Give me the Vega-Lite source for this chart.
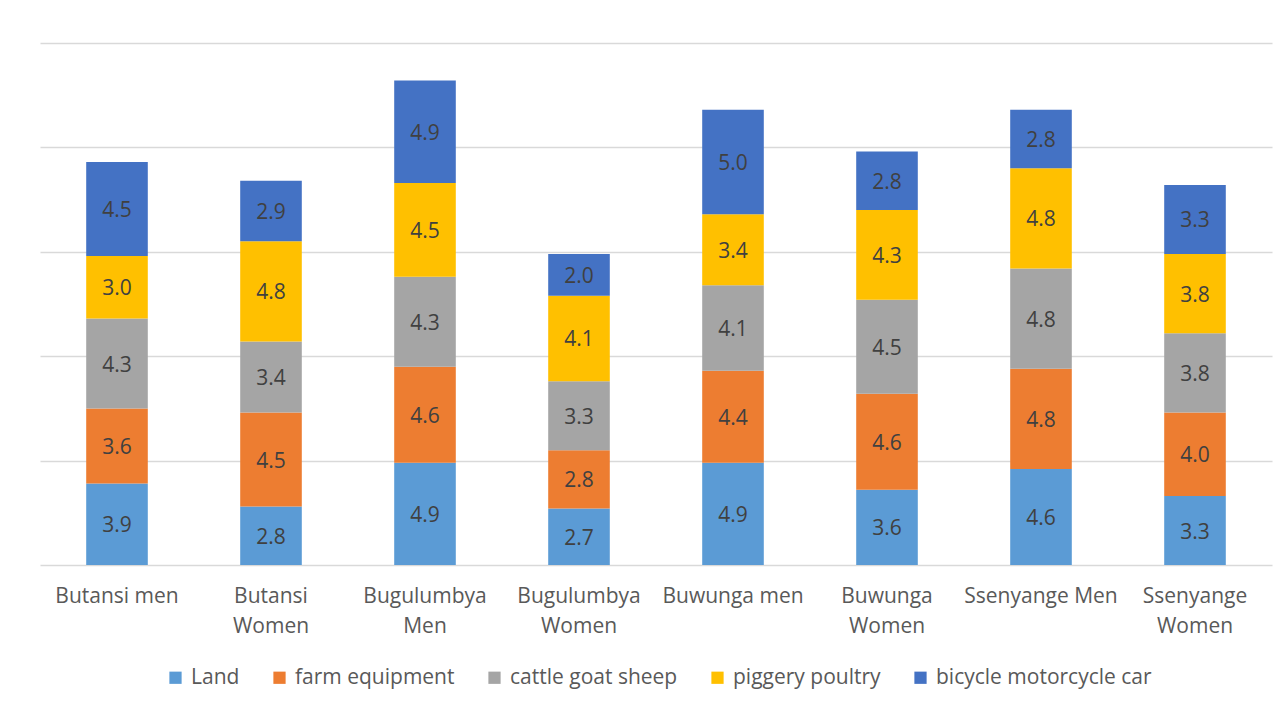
{
  "$schema": "https://vega.github.io/schema/vega-lite/v6.json",
  "width": 1232,
  "height": 522,
  "autosize": {"type": "none"},
  "padding": {"left": 40, "top": 43, "right": 14, "bottom": 144},
  "background": "white",
  "config": {
    "view": {"stroke": null},
    "font": "Open Sans"
  },
  "data": {
    "values": [
      {"group": "Butansi men", "asset": "Land", "asset_order": 1, "value": 3.9},
      {"group": "Butansi men", "asset": "farm equipment", "asset_order": 2, "value": 3.6},
      {"group": "Butansi men", "asset": "cattle goat sheep", "asset_order": 3, "value": 4.3},
      {"group": "Butansi men", "asset": "piggery poultry", "asset_order": 4, "value": 3.0},
      {"group": "Butansi men", "asset": "bicycle motorcycle car", "asset_order": 5, "value": 4.5},
      {"group": "Butansi Women", "asset": "Land", "asset_order": 1, "value": 2.8},
      {"group": "Butansi Women", "asset": "farm equipment", "asset_order": 2, "value": 4.5},
      {"group": "Butansi Women", "asset": "cattle goat sheep", "asset_order": 3, "value": 3.4},
      {"group": "Butansi Women", "asset": "piggery poultry", "asset_order": 4, "value": 4.8},
      {"group": "Butansi Women", "asset": "bicycle motorcycle car", "asset_order": 5, "value": 2.9},
      {"group": "Bugulumbya Men", "asset": "Land", "asset_order": 1, "value": 4.9},
      {"group": "Bugulumbya Men", "asset": "farm equipment", "asset_order": 2, "value": 4.6},
      {"group": "Bugulumbya Men", "asset": "cattle goat sheep", "asset_order": 3, "value": 4.3},
      {"group": "Bugulumbya Men", "asset": "piggery poultry", "asset_order": 4, "value": 4.5},
      {"group": "Bugulumbya Men", "asset": "bicycle motorcycle car", "asset_order": 5, "value": 4.9},
      {"group": "Bugulumbya Women", "asset": "Land", "asset_order": 1, "value": 2.7},
      {"group": "Bugulumbya Women", "asset": "farm equipment", "asset_order": 2, "value": 2.8},
      {"group": "Bugulumbya Women", "asset": "cattle goat sheep", "asset_order": 3, "value": 3.3},
      {"group": "Bugulumbya Women", "asset": "piggery poultry", "asset_order": 4, "value": 4.1},
      {"group": "Bugulumbya Women", "asset": "bicycle motorcycle car", "asset_order": 5, "value": 2.0},
      {"group": "Buwunga men", "asset": "Land", "asset_order": 1, "value": 4.9},
      {"group": "Buwunga men", "asset": "farm equipment", "asset_order": 2, "value": 4.4},
      {"group": "Buwunga men", "asset": "cattle goat sheep", "asset_order": 3, "value": 4.1},
      {"group": "Buwunga men", "asset": "piggery poultry", "asset_order": 4, "value": 3.4},
      {"group": "Buwunga men", "asset": "bicycle motorcycle car", "asset_order": 5, "value": 5.0},
      {"group": "Buwunga Women", "asset": "Land", "asset_order": 1, "value": 3.6},
      {"group": "Buwunga Women", "asset": "farm equipment", "asset_order": 2, "value": 4.6},
      {"group": "Buwunga Women", "asset": "cattle goat sheep", "asset_order": 3, "value": 4.5},
      {"group": "Buwunga Women", "asset": "piggery poultry", "asset_order": 4, "value": 4.3},
      {"group": "Buwunga Women", "asset": "bicycle motorcycle car", "asset_order": 5, "value": 2.8},
      {"group": "Ssenyange Men", "asset": "Land", "asset_order": 1, "value": 4.6},
      {"group": "Ssenyange Men", "asset": "farm equipment", "asset_order": 2, "value": 4.8},
      {"group": "Ssenyange Men", "asset": "cattle goat sheep", "asset_order": 3, "value": 4.8},
      {"group": "Ssenyange Men", "asset": "piggery poultry", "asset_order": 4, "value": 4.8},
      {"group": "Ssenyange Men", "asset": "bicycle motorcycle car", "asset_order": 5, "value": 2.8},
      {"group": "Ssenyange Women", "asset": "Land", "asset_order": 1, "value": 3.3},
      {"group": "Ssenyange Women", "asset": "farm equipment", "asset_order": 2, "value": 4.0},
      {"group": "Ssenyange Women", "asset": "cattle goat sheep", "asset_order": 3, "value": 3.8},
      {"group": "Ssenyange Women", "asset": "piggery poultry", "asset_order": 4, "value": 3.8},
      {"group": "Ssenyange Women", "asset": "bicycle motorcycle car", "asset_order": 5, "value": 3.3}
    ]
  },
  "encoding": {
    "x": {
      "field": "group",
      "type": "nominal",
      "sort": ["Butansi men", "Butansi Women", "Bugulumbya Men", "Bugulumbya Women", "Buwunga men", "Buwunga Women", "Ssenyange Men", "Ssenyange Women"],
      "scale": {"paddingInner": 0.6, "paddingOuter": 0.3},
      "axis": {
        "title": null,
        "domain": false,
        "ticks": false,
        "labelAngle": 0,
        "labelFontSize": 21,
        "labelColor": "#595959",
        "labelPadding": 20,
        "labelLineHeight": 30,
        "labelExpr": "indexof(['Butansi men', 'Buwunga men', 'Ssenyange Men'], datum.label) >= 0 ? datum.label : split(datum.label, ' ')"
      }
    },
    "y": {
      "field": "value",
      "type": "quantitative",
      "stack": "zero",
      "scale": {"domain": [0, 25], "nice": false},
      "axis": {
        "title": null,
        "labels": false,
        "ticks": false,
        "domain": false,
        "grid": true,
        "gridColor": "#d9d9d9",
        "gridWidth": 1.3,
        "values": [0, 5, 10, 15, 20, 25]
      }
    },
    "order": {"field": "asset_order", "type": "quantitative", "sort": "ascending"}
  },
  "layer": [
    {
      "mark": {"type": "bar"},
      "encoding": {
        "color": {
          "field": "asset",
          "type": "nominal",
          "sort": ["Land", "farm equipment", "cattle goat sheep", "piggery poultry", "bicycle motorcycle car"],
          "scale": {
            "domain": ["Land", "farm equipment", "cattle goat sheep", "piggery poultry", "bicycle motorcycle car"],
            "range": ["#5b9bd5", "#ed7d31", "#a5a5a5", "#ffc000", "#4472c4"]
          },
          "legend": {
            "title": null,
            "orient": "none",
            "direction": "horizontal",
            "legendX": 125,
            "legendY": 624,
            "padding": 0,
            "symbolType": "square",
            "symbolSize": 150,
            "symbolStrokeWidth": 0,
            "labelFontSize": 21,
            "labelColor": "#595959",
            "labelOffset": 5,
            "labelLimit": 0,
            "columnPadding": 29
          }
        }
      }
    },
    {
      "mark": {"type": "text", "fontSize": 21, "color": "#404040", "dy": 2},
      "encoding": {
        "y": {"field": "value", "type": "quantitative", "stack": "zero", "bandPosition": 0.5},
        "detail": {"field": "asset", "type": "nominal"},
        "text": {"field": "value", "type": "quantitative", "format": ".1f"}
      }
    }
  ]
}
